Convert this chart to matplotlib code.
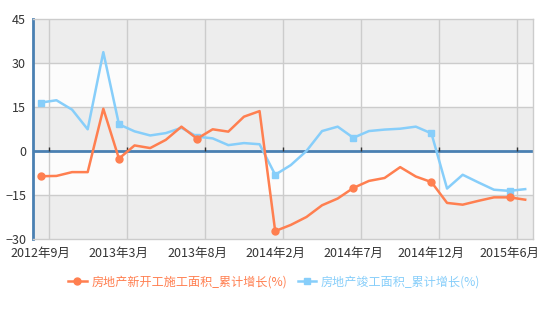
import numpy as np
import matplotlib
matplotlib.use('Agg')
import matplotlib.pyplot as plt
from matplotlib.lines import Line2D

plt.rcParams['font.family'] = ['Noto Sans CJK SC', 'DejaVu Sans']

# monthly categories 2012-09 .. 2015-07 (no January values)
months = ['2012年9月', '2012年10月', '2012年11月', '2012年12月', '2013年2月', '2013年3月',
          '2013年4月', '2013年5月', '2013年6月', '2013年7月', '2013年8月', '2013年9月',
          '2013年10月', '2013年11月', '2013年12月', '2014年2月', '2014年3月', '2014年4月',
          '2014年5月', '2014年6月', '2014年7月', '2014年8月', '2014年9月', '2014年10月',
          '2014年11月', '2014年12月', '2015年2月', '2015年3月', '2015年4月', '2015年5月',
          '2015年6月', '2015年7月']

new_start = [-8.6, -8.5, -7.2, -7.2, 14.4, -2.6, 1.9, 1.0, 3.8, 8.3, 4.2, 7.4,
             6.6, 11.7, 13.6, -27.3, -25.2, -22.5, -18.5, -16.2, -12.6, -10.2, -9.2, -5.5,
             -8.7, -10.6, -17.7, -18.3, -17.0, -15.8, -15.8, -16.6]
completed = [16.5, 17.3, 14.1, 7.4, 33.7, 9.1, 6.7, 5.3, 6.1, 7.9, 4.9, 4.3,
             2.0, 2.7, 2.3, -8.1, -4.8, 0.0, 6.8, 8.3, 4.5, 6.8, 7.3, 7.6,
             8.3, 6.0, -12.8, -8.1, -10.7, -13.2, -13.6, -13.0]

name1 = '房地产新开工施工面积_累计增长(%)'
name2 = '房地产竣工面积_累计增长(%)'
c1 = '#ff7f50'
c2 = '#87cefa'
axcol = '#4a80b2'

x = np.arange(len(months))
step = 5

fig = plt.figure(figsize=(5.52, 3.10), dpi=100)
ax = fig.add_axes([33/552, 1-239/310, 500/552, 220/310])

# alternating background bands
yt = [-30, -15, 0, 15, 30, 45]
for k in range(len(yt)-1):
    col = '#ededed' if k % 2 == 0 else '#fcfcfc'
    ax.axhspan(yt[k], yt[k+1], color=col, lw=0, zorder=0)
for v in [-15, 15, 30]:
    ax.axhline(v, color='#cccccc', lw=1, zorder=1)

bounds = x[::step] + 0.5
for b in bounds:
    ax.axvline(b, color='#cccccc', lw=1, zorder=1)
ax.axhline(0, color=axcol, lw=2, zorder=2)
ax.vlines(bounds, 0, 1.3, color='#333333', lw=1, zorder=2)

ax.plot(x, completed, color=c2, lw=1.8, marker='s', ms=5, markevery=step, zorder=3)
ax.plot(x, new_start, color=c1, lw=1.8, marker='o', ms=5, markevery=step, zorder=4)

ax.set_xlim(-0.5, len(months)-0.5)
ax.set_ylim(-30, 45)
ax.set_yticks(yt)
ax.set_xticks(x[::step])
ax.set_xticklabels(months[::step])
ax.tick_params(axis='both', length=0, labelsize=9, colors='#333333')
ax.tick_params(axis='x', pad=5.5)
ax.tick_params(axis='y', pad=5)

for s in ['top', 'right', 'bottom']:
    ax.spines[s].set_color('#cccccc')
    ax.spines[s].set_linewidth(1)
ax.spines['left'].set_color(axcol)
ax.spines['left'].set_linewidth(2)

h1 = Line2D([], [], color=c1, lw=1.8, marker='o', ms=5)
h2 = Line2D([], [], color=c2, lw=1.8, marker='s', ms=5)
leg = fig.legend([h1, h2], [name1, name2], loc='center', bbox_to_anchor=(0.497, 1-282/310),
                 ncol=2, frameon=False, fontsize=8.7, handlelength=1.5, handletextpad=0.4,
                 columnspacing=0.9)
for t, c in zip(leg.get_texts(), [c1, c2]):
    t.set_color(c)

plt.savefig('out.png', dpi=100)
